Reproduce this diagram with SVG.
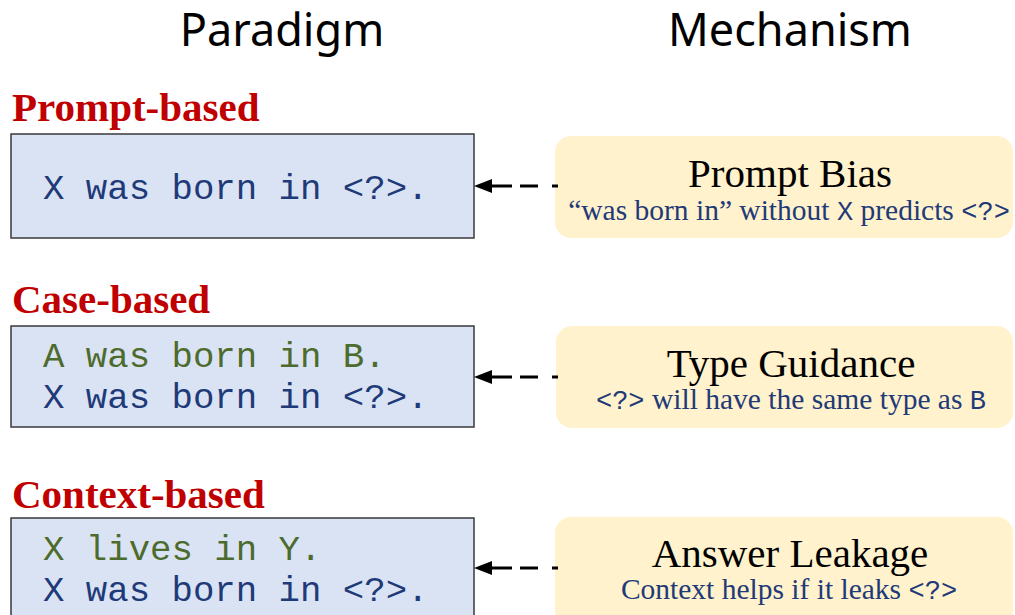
<svg xmlns="http://www.w3.org/2000/svg" width="1015" height="615" viewBox="0 0 1015 615">
<defs>
<style>
.head{font-family:"Noto Sans","Open Sans",sans-serif;font-size:45px;fill:#000;text-anchor:middle}
.lab{font-family:"Liberation Serif","Times New Roman",serif;font-size:41px;font-weight:bold;fill:#c00000}
.pbox{fill:#dae3f3;stroke:#3a3a3a;stroke-width:1.5}
.mbox{fill:#fff2cc;stroke:none}
.code{font-family:"Liberation Mono","Courier New",monospace;font-size:35.7px}
.blue{fill:#1f3a78}
.green{fill:#4d6b2d}
.mt{font-family:"Liberation Serif","Times New Roman",serif;font-size:41px;fill:#000;text-anchor:middle}
.ms{font-family:"Liberation Serif","Times New Roman",serif;font-size:29.5px;fill:#1f3a78;text-anchor:middle}
.mono{font-family:"Liberation Mono","Courier New",monospace;font-size:27px}
.conn{stroke:#000;stroke-width:3;fill:none;stroke-dasharray:6 14 18 8 60}
</style>
<marker id="ah" markerUnits="userSpaceOnUse" markerWidth="18" markerHeight="14" refX="0" refY="7" orient="auto" viewBox="0 0 18 14">
<path d="M0,0 L18,7 L0,14 z" fill="#000"/>
</marker>
</defs>
<rect width="1015" height="615" fill="#fff"/>
<text class="head" x="282" y="46">Paradigm</text>
<text class="head" x="790" y="46">Mechanism</text>

<g id="prompt-based">
<text class="lab" x="12" y="121">Prompt-based</text>
<rect class="pbox" x="11" y="134" width="463" height="104"/>
<text class="code blue" x="43" y="199" xml:space="preserve">X was born in &lt;?&gt;.</text>
</g>
<g id="case-based">
<text class="lab" x="12" y="313">Case-based</text>
<rect class="pbox" x="11" y="326" width="463" height="101"/>
<text class="code green" x="43" y="367">A was born in B.</text>
<text class="code blue" x="43" y="408">X was born in &lt;?&gt;.</text>
</g>
<g id="context-based">
<text class="lab" x="12" y="508">Context-based</text>
<rect class="pbox" x="11" y="518" width="463" height="110"/>
<text class="code green" x="43" y="560">X lives in Y.</text>
<text class="code blue" x="43" y="601">X was born in &lt;?&gt;.</text>
</g>

<g id="prompt-bias">
<rect class="mbox" x="555" y="136" width="458" height="102" rx="16"/>
<text class="mt" x="790" y="187">Prompt Bias</text>
<text class="ms" x="789" y="220">“was born in” without <tspan class="mono">X</tspan> predicts <tspan class="mono">&lt;?&gt;</tspan></text>
</g>
<g id="type-guidance">
<rect class="mbox" x="556" y="326" width="457" height="102" rx="16"/>
<text class="mt" x="791" y="377">Type Guidance</text>
<text class="ms" x="791" y="409"><tspan class="mono">&lt;?&gt;</tspan> will have the same type as <tspan class="mono">B</tspan></text>
</g>
<g id="answer-leakage">
<rect class="mbox" x="555" y="517" width="458" height="110" rx="16"/>
<text class="mt" x="790" y="567">Answer Leakage</text>
<text class="ms" x="789" y="599">Context helps if it leaks <tspan class="mono">&lt;?&gt;</tspan></text>
</g>

<g id="connectors">
<line class="conn" x1="558" y1="186" x2="492" y2="186" marker-end="url(#ah)"/>
<line class="conn" x1="558" y1="377" x2="492" y2="377" marker-end="url(#ah)"/>
<line class="conn" x1="558" y1="568" x2="492" y2="568" marker-end="url(#ah)"/>
</g>
</svg>
